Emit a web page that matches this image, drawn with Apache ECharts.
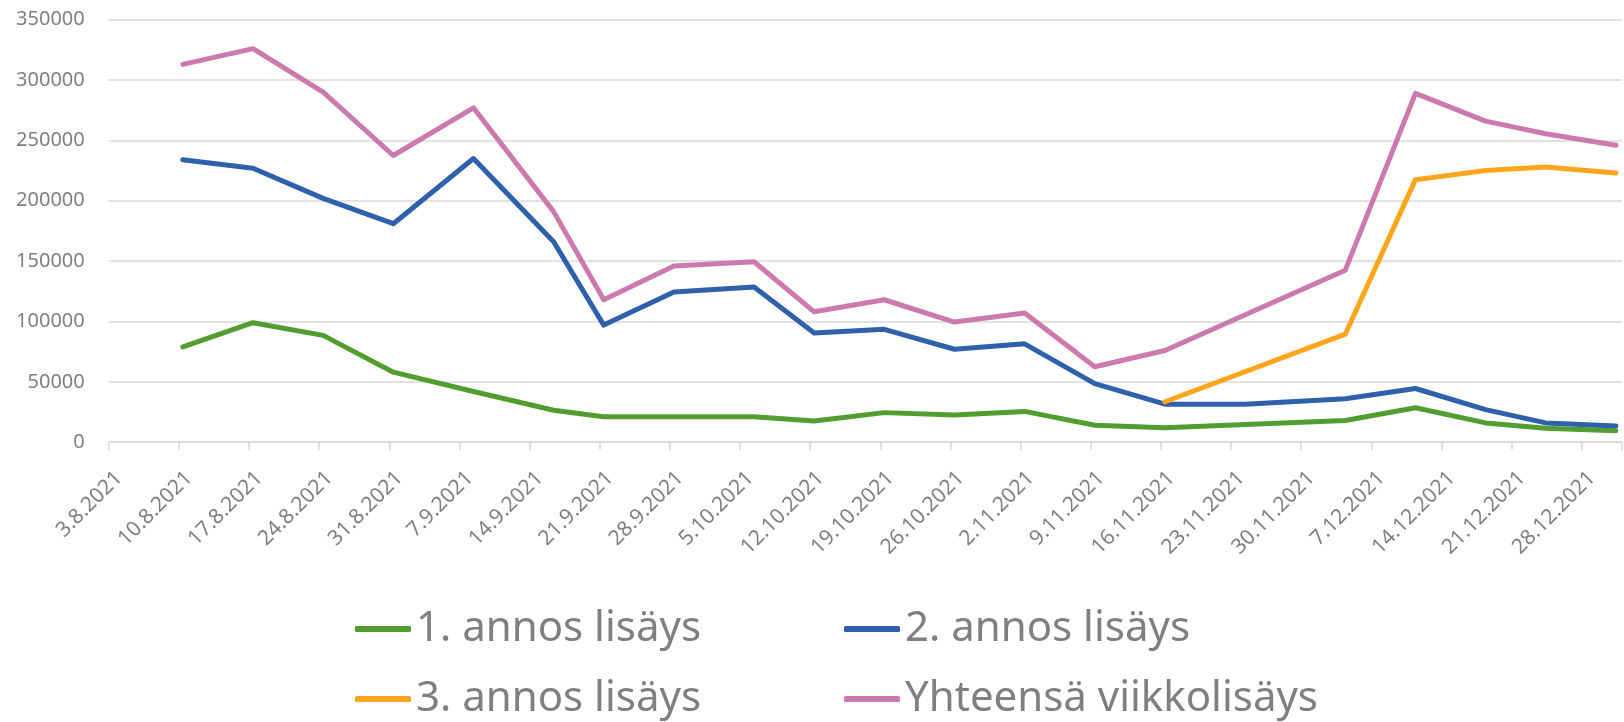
<!DOCTYPE html>
<html>
<head>
<meta charset="utf-8">
<script src="https://cdn.jsdelivr.net/npm/echarts@6/dist/echarts.min.js"></script>
<style>
  html, body { margin: 0; padding: 0; background: #fff; }
  #chart { width: 1624px; height: 722px; }
</style>
</head>
<body>
<div id="chart"></div>
<script>
// viikkodata, luettu kuvasta
const baseDate = '2021-08-03';
const dates = [
  '2021-08-10', '2021-08-17', '2021-08-24', '2021-08-31', '2021-09-08',
  '2021-09-16', '2021-09-21', '2021-09-28', '2021-10-06', '2021-10-12',
  '2021-10-19', '2021-10-26', '2021-11-02', '2021-11-09', '2021-11-16',
  '2021-11-24', '2021-12-04', '2021-12-11', '2021-12-18', '2021-12-24',
  '2021-12-31'
];
const dose1 = [79000, 99000, 88500, 58000, 42000, 26500, 21000, 21000, 21000, 17500,
  24500, 22500, 25500, 14000, 12000, null, 18000, 28500, 16000, 11500, 9500];
const dose2 = [234000, 227000, 202000, 181000, 235000, 166000, 97000, 124500, 128500, 90500,
  93500, 77000, 81500, 48500, 31500, 31500, 36000, 44500, 27000, 16000, 13500];
const dose3 = [null, null, null, null, null, null, null, null, null, null,
  null, null, null, null, 33500, null, 89500, 217500, 225000, 228000, 223000];
const total = [313000, 326000, 290000, 237500, 277000, 191000, 118000, 146000, 149500, 108000,
  118000, 99500, 107000, 62500, 76000, null, 142500, 289000, 266000, 255500, 246000];

const seriesNames = ['1. annos lisäys', '2. annos lisäys', '3. annos lisäys', 'Yhteensä viikkolisäys'];
const colors = ['#519d2f', '#2f60ab', '#fda61c', '#cc79ae'];

const DAY = 24 * 3600 * 1000;
const base = Date.parse(baseDate + 'T00:00:00Z');
// päivä akselin alusta, piste keskellä päivää kuten Excelin päivämääräakselilla
const dayPos = d => (Date.parse(d + 'T00:00:00Z') - base) / DAY + 0.4;

const dayLabel = v => {
  const d = new Date(base + v * DAY);
  return d.getUTCDate() + '.' + (d.getUTCMonth() + 1) + '.' + d.getUTCFullYear();
};

const grey = '#7f7f7f';
const font = 'Noto Sans';

const makeSeries = (name, values, color) => ({
  name: name,
  type: 'line',
  data: values.map((v, i) => [dayPos(dates[i]), v]),
  connectNulls: true,
  showSymbol: false,
  symbol: 'none',
  lineStyle: { color: color, width: 5, cap: 'round', join: 'round' },
  itemStyle: { color: color }
});

const makeLegend = (name, left, top) => ({
  data: [name],
  left: left,
  top: top,
  icon: 'roundRect',
  itemWidth: 56,
  itemHeight: 6,
  textStyle: { fontSize: 42, color: grey, fontFamily: font, lineHeight: 44 }
});

const myChart = echarts.init(document.getElementById('chart'));

const option = {
  animation: false,
  backgroundColor: '#fff',
  grid: { left: 108.7, right: -6, top: 19.7, bottom: 279.8 },
  legend: [
    makeLegend(seriesNames[0], 350, 602),
    makeLegend(seriesNames[1], 839, 602),
    makeLegend(seriesNames[2], 350, 672),
    makeLegend(seriesNames[3], 839, 672)
  ],
  xAxis: {
    type: 'value',
    min: 0,
    max: 151,
    interval: 7,
    splitLine: { show: false },
    axisLine: { lineStyle: { color: '#d9d9d9', width: 1.5 } },
    axisTick: { length: 8, lineStyle: { color: '#d9d9d9', width: 1.5 } },
    axisLabel: {
      rotate: 45,
      margin: 28,
      verticalAlign: 'top',
      padding: [0, -4, 0, 0],
      fontSize: 21,
      color: grey,
      fontFamily: font,
      formatter: v => (v % 7 === 0 ? dayLabel(v) : '')
    }
  },
  yAxis: {
    type: 'value',
    min: 0,
    max: 350000,
    interval: 50000,
    axisLine: { show: false },
    axisTick: { show: false },
    splitLine: { lineStyle: { color: '#d9d9d9', width: 1.5 } },
    axisLabel: {
      margin: 24,
      fontSize: 20,
      color: grey,
      fontFamily: font,
      formatter: v => String(v)
    }
  },
  series: [
    makeSeries(seriesNames[0], dose1, colors[0]),
    makeSeries(seriesNames[1], dose2, colors[1]),
    makeSeries(seriesNames[2], dose3, colors[2]),
    makeSeries(seriesNames[3], total, colors[3])
  ]
};

myChart.setOption(option);
</script>
</body>
</html>
